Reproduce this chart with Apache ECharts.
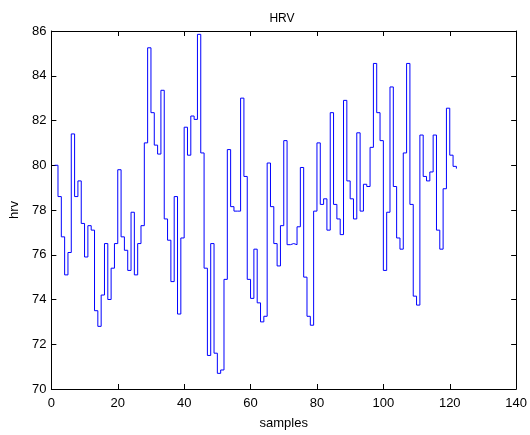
<!DOCTYPE html>
<html>
<head>
<meta charset="utf-8">
<title>HRV</title>
<script src="https://cdn.jsdelivr.net/npm/echarts@6/dist/echarts.min.js"></script>
<style>
  html, body { margin: 0; padding: 0; background: #fff; }
  #chart { width: 530px; height: 435px; }
</style>
</head>
<body>
<div id="chart"></div>
<script>
// valores (um por amostra, amostras 1..122)
const hrv = [
  80.0, 78.6, 76.8, 75.1, 76.1, 81.4, 78.6, 79.3, 77.4, 75.9,
  77.3, 77.1, 73.5, 72.8, 74.2, 76.5, 74.0, 75.4, 76.5, 79.8,
  76.8, 76.2, 75.3, 77.9, 75.1, 76.5, 77.3, 81.0, 85.25, 82.35,
  80.9, 80.5, 83.35, 77.6, 76.65, 74.8, 78.6, 73.35, 76.75, 81.7,
  80.45, 82.2, 82.05, 85.85, 80.55, 75.4, 71.5, 76.5, 71.6, 70.7,
  70.85, 74.9, 80.7, 78.15, 77.95, 77.95, 83.0, 79.5, 74.9, 74.05,
  76.25, 73.85, 73.0, 73.25, 80.1, 78.15, 76.5, 75.5, 77.3, 81.1,
  76.45, 76.5, 76.45, 77.25, 79.9, 75.0, 73.25, 72.85, 77.95, 81.0,
  78.25, 78.5, 77.1, 82.35, 78.25, 77.6, 76.9, 82.9, 79.3, 78.5,
  77.6, 81.45, 77.95, 79.15, 79.05, 80.8, 84.55, 82.35, 81.1, 75.3,
  77.9, 83.5, 79.05, 76.75, 76.25, 80.55, 84.55, 78.25, 74.15, 73.75,
  81.35, 79.5, 79.3, 79.7, 81.35, 77.1, 76.25, 78.95, 82.55, 80.45,
  79.95, 79.85
];

// eixos
const xTicks = [0, 20, 40, 60, 80, 100, 120, 140];
const yTicks = [70, 72, 74, 76, 78, 80, 82, 84, 86];

const fontFamily = '"Liberation Sans", Arial, sans-serif';

function axisBase(showLabel) {
  return {
    axisLine: { show: true, onZero: false, lineStyle: { color: '#000', width: 1 } },
    axisTick: { show: true, inside: true, length: 5, lineStyle: { color: '#000' } },
    axisLabel: { show: showLabel, color: '#000', fontSize: 13, fontFamily: fontFamily },
    splitLine: { show: false }
  };
}

const chart = echarts.init(document.getElementById('chart'));

const xBottom = Object.assign(axisBase(true), {
  type: 'value', position: 'bottom',
  min: xTicks[0], max: xTicks[xTicks.length - 1], interval: xTicks[1] - xTicks[0],
  name: 'samples', nameLocation: 'middle', nameGap: 28,
  nameTextStyle: { color: '#000', fontSize: 13, fontFamily: fontFamily }
});
xBottom.axisLabel.margin = 8;

const xTop = Object.assign(axisBase(false), {
  type: 'value', position: 'top',
  min: xTicks[0], max: xTicks[xTicks.length - 1], interval: xTicks[1] - xTicks[0]
});

const yLeft = Object.assign(axisBase(true), {
  type: 'value', position: 'left',
  min: yTicks[0], max: yTicks[yTicks.length - 1], interval: yTicks[1] - yTicks[0],
  name: 'hrv', nameLocation: 'middle', nameGap: 30,
  nameTextStyle: { color: '#000', fontSize: 13, fontFamily: fontFamily }
});
yLeft.axisLabel.margin = 5;

const yRight = Object.assign(axisBase(false), {
  type: 'value', position: 'right',
  min: yTicks[0], max: yTicks[yTicks.length - 1], interval: yTicks[1] - yTicks[0]
});

chart.setOption({
  animation: false,
  backgroundColor: '#fff',
  title: {
    text: 'HRV',
    left: 277,
    top: 8,
    textAlign: 'center',
    textStyle: { color: '#000', fontSize: 12, fontWeight: 'normal', fontFamily: fontFamily }
  },
  grid: { left: 48, right: 12, top: 31, bottom: 41 },
  xAxis: [xBottom, xTop],
  yAxis: [yLeft, yRight],
  series: [{
    type: 'line',
    step: 'end',
    showSymbol: false,
    lineStyle: { color: '#0000ff', width: 1 },
    data: hrv.map((v, i) => [i + 1, v])
  }]
});
</script>
</body>
</html>
